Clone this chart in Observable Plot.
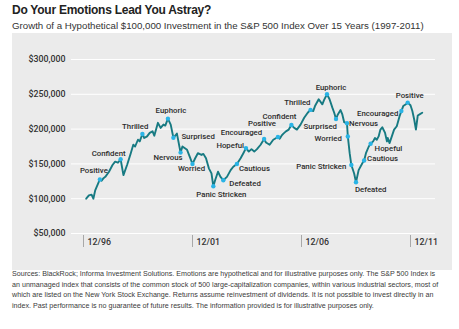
<!DOCTYPE html>
<html><head><meta charset="utf-8">
<script src="https://cdn.jsdelivr.net/npm/d3@7"></script>
<script src="https://cdn.jsdelivr.net/npm/@observablehq/plot@0.6"></script>
<style>
body{margin:0;background:#fff;width:459px;height:329px;position:relative;overflow:hidden;font-family:"Liberation Sans",Arial,sans-serif;}
#title{position:absolute;left:12px;top:3px;font-size:12px;font-weight:bold;letter-spacing:-0.25px;color:#222;white-space:nowrap}
#subtitle{position:absolute;left:12px;top:19.5px;font-size:9.7px;color:#333;white-space:nowrap}
#panel{position:absolute;left:12px;top:33px;width:440px;height:237px;background:#ebebeb}
#caption{position:absolute;left:12px;top:269px;font-size:7.15px;line-height:10.7px;color:#3a3a3a;white-space:nowrap}
</style></head><body>
<div id="title">Do Your Emotions Lead You Astray?</div>
<div id="subtitle">Growth of a Hypothetical $100,000 Investment in the S&amp;P 500 Index Over 15 Years (1997-2011)</div>
<div id="panel"></div>
<div id="caption">Sources: BlackRock; Informa Investment Solutions. Emotions are hypothetical and for illustrative purposes only. The S&amp;P 500 Index is<br>an unmanaged index that consists of the common stock of 500 large-capitalization companies, within various industrial sectors, most of<br>which are listed on the New York Stock Exchange. Returns assume reinvestment of dividends. It is not possible to invest directly in an<br>index. Past performance is no guarantee of future results. The information provided is for illustrative purposes only.</div>
<script>
const dates = ["1997-01-15","1997-03-01","1997-04-15","1997-05-15","1997-06-15","1997-09-01","1997-10-01","1997-11-01","1997-12-01",
"1998-02-01","1998-04-01","1998-05-15","1998-07-01","1998-08-15","1998-10-01","1998-12-01",
"1999-02-01","1999-03-15","1999-04-15","1999-06-01","1999-07-01","1999-08-15","1999-09-15","1999-11-01","1999-12-15",
"2000-02-01","2000-03-01","2000-05-01","2000-06-15","2000-08-01","2000-09-01","2000-10-15","2000-12-01",
"2001-01-15","2001-03-15","2001-05-15","2001-06-15","2001-09-01","2001-10-15","2001-12-01",
"2002-01-15","2002-03-01","2002-05-01","2002-06-01","2002-07-15","2002-09-01","2002-10-15","2002-11-15","2002-12-15",
"2003-02-01","2003-03-15","2003-05-01","2003-07-01","2003-09-01","2003-10-15","2003-12-15",
"2004-02-15","2004-04-01","2004-05-15","2004-07-01","2004-08-15","2004-10-01","2004-11-15",
"2005-01-15","2005-03-15","2005-04-15","2005-06-15","2005-08-15","2005-11-01","2005-12-01",
"2006-01-01","2006-02-01","2006-03-15","2006-05-01","2006-06-15","2006-08-01","2006-09-15","2006-11-15",
"2007-01-15","2007-03-15","2007-05-01","2007-06-15","2007-07-15","2007-09-15","2007-11-15","2007-12-15",
"2008-02-01","2008-03-15","2008-05-01","2008-06-01","2008-07-01","2008-08-01","2008-09-15","2008-10-15","2008-11-15",
"2009-01-01","2009-01-15","2009-02-15","2009-03-15","2009-05-01","2009-06-01","2009-07-15","2009-09-15","2009-10-15","2009-11-15",
"2010-01-01","2010-02-01","2010-03-15","2010-04-15","2010-05-15","2010-06-15","2010-07-15","2010-08-15","2010-10-01","2010-11-01","2010-11-15","2010-12-15",
"2011-02-01","2011-03-01","2011-04-15","2011-06-01","2011-07-01","2011-08-01","2011-09-15","2011-10-15","2011-12-01",
"2012-01-01","2012-02-01","2012-03-01","2012-04-01","2012-05-01","2012-06-15"];

const values = [100000,104800,105800,100000,112000,127600,125800,129500,131400,
138700,148400,153200,151700,156700,133900,148400,
165400,177500,175000,184700,182300,193000,187200,189500,194500,
196800,190500,209000,201700,206500,205000,215000,206500,
187500,193600,166200,175000,170200,160500,149900,
158100,165400,162900,164400,158100,143600,136300,117800,126600,
138700,131400,126600,131400,141100,145900,149900,
158100,165400,172700,167700,171200,167700,171200,
177500,185800,180800,177500,184700,188700,186200,
190500,193500,196800,199300,205800,201700,199300,206500,
216300,223500,227600,225900,233100,242900,235600,241900,
250100,242900,230800,223500,214500,221100,227300,221100,209900,
208300,189400,165400,148400,136300,123700,141100,150900,154900,165400,
175000,178900,182300,187200,184700,189500,199300,202600,194500,182300,187200,179900,
192000,199300,204100,218600,225900,233100,235600,238100,234200,
225900,213800,199300,219600,221100,223500];

const emotions = ["Positive","Confident","Thrilled","Euphoric","Surprised","Nervous","Worried","Panic Stricken","Defeated","Cautious","Hopeful","Encouraged",
"Positive","Confident","Thrilled","Euphoric","Surprised","Nervous","Worried","Panic Stricken","Defeated","Cautious","Hopeful","Encouraged","Positive"];
const emotionDates = ["1997-09-01","1998-08-15","1999-08-15","2000-10-15","2001-01-15","2001-05-15","2001-12-01","2002-11-15","2003-05-01","2003-12-15","2004-05-15","2005-03-15",
"2005-11-01","2006-06-15","2007-05-01","2008-02-01","2008-07-01","2009-01-01","2009-01-15","2009-03-15","2009-06-01","2009-10-15","2010-02-01","2011-07-01","2011-10-15"];

const yTicks = [50000,100000,150000,200000,250000,300000];
const xTickDates = ["1996-12-01","2001-12-01","2006-12-01","2011-12-01"];
const xTickLabels = ["12/96","12/01","12/06","12/11"];

// label placement (layout only): [textAnchor, dx, dy]
const labelPlacement = [["end",8,-9],["end",5,-6],["end",6,-7],["middle",3,-8],["start",8,-1],["end",2,5],["middle",-1,5],["middle",8,8],["start",6,3],["start",2,4.5],["end",-2,-3],["end",-2,-6],
["end",-2,-13],["end",5,-9],["end",0,-7],["middle",4,-7],["end",1,7],["start",2,0],["end",-6,2],["end",-5,1],["start",-1,7],["start",3,-2],["start",4,5],["end",-3,2],["middle",2,-7]];

const parse = d3.utcParse("%Y-%m-%d");
const series = dates.map((d, i) => ({date: parse(d), value: values[i]}));
const valueByDate = new Map(dates.map((d, i) => [d, values[i]]));
const marks = emotions.map((e, i) => ({
  label: e, date: parse(emotionDates[i]), value: valueByDate.get(emotionDates[i]),
  anchor: labelPlacement[i][0], dx: labelPlacement[i][1], dy: labelPlacement[i][2]
}));
const xTicks = xTickDates.map(parse);

const labelMarks = ["start","middle","end"].flatMap(anchor =>
  marks.filter(m => m.anchor === anchor).map(m =>
    Plot.text([m], {x: "date", y: "value", text: "label", textAnchor: anchor, dx: m.dx, dy: m.dy,
      fontSize: 7.8, fontWeight: 500, fill: "#2b2b2b"})
  )
);

const chart = Plot.plot({
  width: 440, height: 237,
  marginLeft: 59, marginRight: 17, marginTop: 26, marginBottom: 35,
  style: {fontFamily: "Roboto, 'Liberation Sans', Arial, sans-serif", background: "transparent"},
  x: {type: "utc", domain: [xTicks[0], xTicks[3]], range: [71, 398]},
  y: {domain: [50000, 300000], range: [200, 26]},
  marks: [
    Plot.gridY(yTicks, {stroke: "#ffffff", strokeOpacity: 1, strokeWidth: 1}),
    Plot.axisY({ticks: yTicks, tickSize: 0, tickPadding: 6, label: null, fontSize: 8.8, fontWeight: 500, fill: "#333",
      tickFormat: d => "$" + d3.format(",")(d)}),
    Plot.axisX({ticks: xTicks, tickSize: 12, stroke: "#a8a8a8", fill: "none", label: null}),
    Plot.text(xTicks, {x: d => d, frameAnchor: "bottom", text: (d, i) => xTickLabels[i], textAnchor: "start", dx: 4, dy: 9,
      fontSize: 8.8, fontWeight: 500, fill: "#333"}),
    Plot.line(series, {x: "date", y: "value", stroke: "#177a82", strokeWidth: 1.9, curve: "linear"}),
    Plot.dot(marks, {x: "date", y: "value", r: 2.2, fill: "#2ab4e6", stroke: "none"}),
    ...labelMarks
  ]
});
document.getElementById("panel").appendChild(chart);
</script>
</body></html>
